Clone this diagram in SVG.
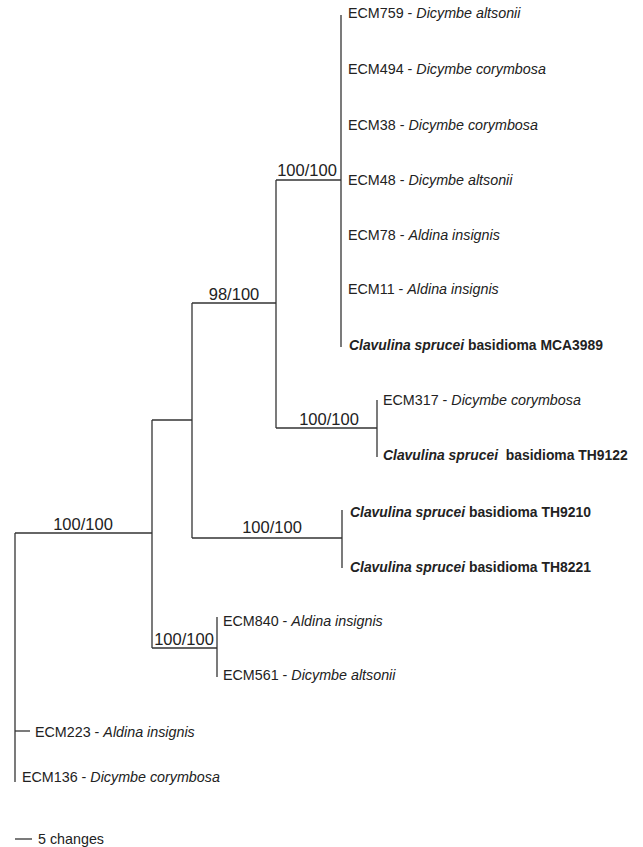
<svg xmlns="http://www.w3.org/2000/svg" width="643" height="847" viewBox="0 0 643 847">
<style>
.leaf{font-family:"Liberation Sans",Arial,Helvetica,sans-serif;font-size:14.3px;fill:#222}
.sp{font-style:italic}
.b{font-weight:bold;font-size:13.9px}
.sup{font-family:"Liberation Sans",Arial,Helvetica,sans-serif;font-size:16.5px;fill:#222;text-anchor:middle}
.br{stroke:#333;stroke-width:1.3;fill:none}
</style>
<rect width="643" height="847" fill="#fff"/>
<g id="connectors" class="br">
<path d="M341,15V347"/>
<path d="M276,180H341"/>
<path d="M276,180V428"/>
<path d="M276,428H377"/>
<path d="M377,400V457"/>
<path d="M192,303H276"/>
<path d="M192,303V538"/>
<path d="M192,538H342"/>
<path d="M342,510V568"/>
<path d="M152,420H192"/>
<path d="M152,420V648"/>
<path d="M152,648H217"/>
<path d="M217,617V677"/>
<path d="M15,533H152"/>
<path d="M15,533V782"/>
<path d="M15,731H30"/>
</g>
<g id="node-ecm759"><text class="leaf" x="348" y="18">ECM759 - <tspan class="sp">Dicymbe altsonii</tspan></text></g>
<g id="node-ecm494"><text class="leaf" x="348" y="74">ECM494 - <tspan class="sp">Dicymbe corymbosa</tspan></text></g>
<g id="node-ecm38"><text class="leaf" x="348" y="130">ECM38 - <tspan class="sp">Dicymbe corymbosa</tspan></text></g>
<g id="node-ecm48"><text class="leaf" x="348" y="185">ECM48 - <tspan class="sp">Dicymbe altsonii</tspan></text></g>
<g id="node-ecm78"><text class="leaf" x="348" y="240">ECM78 - <tspan class="sp">Aldina insignis</tspan></text></g>
<g id="node-ecm11"><text class="leaf" x="348" y="294">ECM11 - <tspan class="sp">Aldina insignis</tspan></text></g>
<g id="node-mca3989"><text class="leaf b" x="349" y="350"><tspan class="sp">Clavulina sprucei</tspan> basidioma MCA3989</text></g>
<g id="node-ecm317"><text class="leaf" x="383" y="405">ECM317 - <tspan class="sp">Dicymbe corymbosa</tspan></text></g>
<g id="node-th9122"><text class="leaf b" x="383" y="460" xml:space="preserve"><tspan class="sp">Clavulina sprucei</tspan>  basidioma TH9122</text></g>
<g id="node-th9210"><text class="leaf b" x="350" y="517"><tspan class="sp">Clavulina sprucei</tspan> basidioma TH9210</text></g>
<g id="node-th8221"><text class="leaf b" x="350" y="572"><tspan class="sp">Clavulina sprucei</tspan> basidioma TH8221</text></g>
<g id="node-ecm840"><text class="leaf" x="223" y="626">ECM840 - <tspan class="sp">Aldina insignis</tspan></text></g>
<g id="node-ecm561"><text class="leaf" x="223" y="680">ECM561 - <tspan class="sp">Dicymbe altsonii</tspan></text></g>
<g id="node-ecm223"><text class="leaf" x="35" y="737">ECM223 - <tspan class="sp">Aldina insignis</tspan></text></g>
<g id="node-ecm136"><text class="leaf" x="22" y="782">ECM136 - <tspan class="sp">Dicymbe corymbosa</tspan></text></g>
<g id="clade-a"><text class="sup" x="307" y="176">100/100</text></g>
<g id="clade-b"><text class="sup" x="234" y="300">98/100</text></g>
<g id="clade-c"><text class="sup" x="329" y="425">100/100</text></g>
<g id="clade-d"><text class="sup" x="272" y="533">100/100</text></g>
<g id="clade-e"><text class="sup" x="184" y="645">100/100</text></g>
<g id="clade-root"><text class="sup" x="83" y="530">100/100</text></g>
<g id="scale-bar">
<path class="br" d="M15,839H32"/>
<text class="leaf" x="38" y="844">5 changes</text>
</g>
</svg>
